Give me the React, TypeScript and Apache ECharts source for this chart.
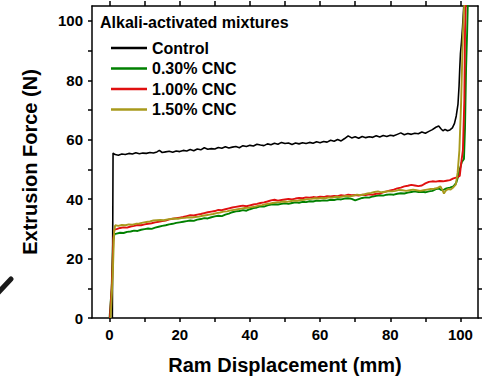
import React, { useEffect, useRef } from "react";
import * as echarts from "echarts";

const seriesNames = ["Control", "0.30% CNC", "1.00% CNC", "1.50% CNC"];
const seriesColors = ["#000000", "#008000", "#e01010", "#a89a1c"];

const xTicks = [0, 10, 20, 30, 40, 50, 60, 70, 80, 90, 100];
const xLabels = [0, 20, 40, 60, 80, 100];
const yTicks = [0, 10, 20, 30, 40, 50, 60, 70, 80, 90, 100];
const yLabels = [0, 20, 40, 60, 80, 100];

const controlData = [
  [0.8, 0], [1.0, 55.5], [1.6, 55.0], [2.5, 54.8], [3.5, 55.2], [4.5, 55.0], [5.5, 55.4], [6.5, 55.2],
  [7.5, 55.6], [8.5, 55.3], [9.5, 55.5], [10.5, 55.4], [11.5, 55.7], [12.5, 55.5], [13.5, 55.9], [14.2, 56.4],
  [15, 55.7], [16, 55.9], [17, 56.1], [18, 55.8], [19, 56.2], [20, 56.0], [21, 56.4], [22, 56.2], [23, 56.7],
  [24, 56.3], [25, 56.9], [26, 56.6], [27, 57.3], [28, 56.8], [29, 57.0], [30, 56.9], [31, 57.4], [32, 57.1],
  [33, 57.6], [34, 57.2], [35, 57.5], [36, 57.7], [37, 57.3], [38, 58.0], [39, 57.7], [40, 58.1], [41, 57.9],
  [42, 58.5], [43, 58.2], [44, 58.0], [45, 58.6], [46, 58.3], [47, 58.8], [48, 58.5], [49, 59.1], [50, 58.7],
  [51, 58.9], [52, 58.4], [53, 58.9], [54, 58.6], [55, 59.0], [56, 58.7], [57, 59.1], [58, 58.8], [59, 59.3],
  [60, 59.0], [61, 59.4], [62, 59.2], [63, 59.8], [64, 59.5], [65, 60.1], [66, 59.6], [67, 60.4], [68, 61.3],
  [69, 60.6], [70, 61.0], [71, 60.5], [72, 61.1], [73, 60.7], [74, 61.0], [75, 60.8], [76, 61.3], [77, 60.9],
  [78, 61.4], [79, 61.1], [80, 61.5], [81, 61.3], [82, 61.8], [83, 62.3], [84, 61.7], [85, 62.1], [86, 61.8],
  [87, 62.2], [88, 62.0], [89, 62.6], [90, 62.2], [91, 62.8], [92, 63.4], [93, 64.2], [93.8, 64.6], [94.5, 63.6],
  [95, 63.0], [95.6, 63.5], [96.3, 63.0], [97, 63.3], [97.7, 64.0], [98.3, 65.5], [98.8, 68], [99.3, 72],
  [99.6, 78], [99.8, 84], [100.0, 89], [100.3, 93], [100.6, 98], [101.0, 106],
];

const cnc030Data = [
  [0, 0], [0.6, 10], [1.0, 26], [1.4, 28.2], [2, 28.4], [3, 28.7], [4, 28.6], [5, 29.0], [6, 29.1], [7, 29.4],
  [8, 29.3], [9, 29.7], [10, 29.9], [11, 30.1], [12, 30.0], [13, 30.4], [14, 30.7], [15, 31.0], [16, 31.2],
  [17, 31.5], [18, 31.7], [19, 32.0], [20, 32.2], [21, 32.4], [22, 32.6], [23, 32.8], [24, 32.7], [25, 33.1],
  [26, 33.3], [27, 33.6], [28, 33.5], [29, 33.9], [30, 34.2], [31, 34.4], [32, 34.3], [33, 34.8], [34, 35.1],
  [35, 35.6], [36, 35.9], [37, 36.0], [38, 36.3], [39, 36.1], [40, 36.6], [41, 37.0], [42, 37.2], [43, 37.6],
  [44, 37.5], [45, 37.9], [46, 38.2], [47, 38.3], [48, 38.2], [49, 38.4], [50, 38.6], [51, 38.4], [52, 38.7],
  [53, 38.9], [54, 38.8], [55, 39.1], [56, 39.0], [57, 39.3], [58, 39.2], [59, 39.5], [60, 39.4], [61, 39.6],
  [62, 39.5], [63, 39.8], [64, 39.7], [65, 40.0], [66, 39.9], [67, 40.2], [68, 40.3], [69, 40.1], [70, 39.6],
  [71, 40.0], [72, 40.4], [73, 40.6], [74, 40.5], [75, 40.9], [76, 41.1], [77, 41.3], [78, 41.2], [79, 41.5],
  [80, 41.6], [81, 41.5], [82, 41.8], [83, 42.0], [84, 41.9], [85, 42.2], [86, 42.4], [87, 42.6], [88, 42.4],
  [89, 42.5], [90, 42.3], [91, 42.6], [92, 42.8], [93, 43.4], [93.8, 43.6], [94.5, 43.1], [95.3, 43.2],
  [96, 43.6], [97, 43.9], [98, 44.3], [98.8, 45.5], [99.3, 47.5], [99.8, 50], [100.4, 52.5], [101.0, 53.5],
  [101.3, 64], [101.6, 84], [101.9, 96], [102.1, 106],
];

const cnc100Data = [
  [0.1, 0], [0.7, 12], [1.1, 27], [1.4, 29.8], [2, 29.9], [3, 30.3], [4, 30.5], [5, 30.4], [6, 30.8], [7, 31.0],
  [8, 31.3], [9, 31.2], [10, 31.5], [11, 31.7], [12, 31.9], [13, 32.2], [14, 32.4], [15, 32.6], [16, 32.8],
  [17, 33.2], [18, 33.4], [19, 33.6], [20, 33.8], [21, 34.0], [22, 34.3], [23, 34.6], [24, 34.5], [25, 34.8],
  [26, 35.0], [27, 35.3], [28, 35.6], [29, 35.8], [30, 36.0], [31, 36.4], [32, 36.3], [33, 36.6], [34, 36.9],
  [35, 37.2], [36, 37.4], [37, 37.6], [38, 37.8], [39, 37.6], [40, 37.9], [41, 38.2], [42, 38.4], [43, 38.7],
  [44, 38.9], [45, 39.2], [46, 39.6], [47, 39.8], [48, 39.5], [49, 39.7], [50, 39.9], [51, 40.1], [52, 39.9],
  [53, 40.2], [54, 40.4], [55, 40.3], [56, 40.6], [57, 40.5], [58, 40.7], [59, 40.6], [60, 40.8], [61, 40.7],
  [62, 41.0], [63, 40.9], [64, 41.1], [65, 41.0], [66, 41.3], [67, 41.2], [68, 41.5], [69, 41.3], [70, 41.4],
  [71, 41.2], [72, 41.5], [73, 41.4], [74, 41.6], [75, 41.5], [76, 41.8], [77, 41.9], [78, 42.3], [79, 42.6],
  [80, 42.9], [81, 43.2], [82, 43.6], [83, 43.9], [84, 44.3], [85, 44.5], [86, 44.8], [87, 44.6], [88, 44.4],
  [89, 44.6], [90, 45.3], [91, 45.8], [92, 46.0], [93, 45.9], [94, 46.1], [95, 46.0], [96, 46.2], [97, 46.4],
  [98, 47.0], [99, 47.3], [99.8, 47.8], [100.2, 52], [100.7, 56.5], [101.1, 73], [101.3, 96], [101.5, 106],
];

const cnc150Data = [
  [0.3, 0], [0.9, 14], [1.3, 29], [1.6, 31.2], [2.5, 31.0], [3.5, 31.3], [4.5, 31.2], [5.5, 31.5], [6.5, 31.4],
  [7.5, 31.7], [8.5, 31.8], [9.5, 32.1], [10.5, 32.3], [11.5, 32.5], [12.5, 32.8], [13.5, 32.9], [14.5, 33.0],
  [15.5, 32.9], [16.5, 33.2], [17.5, 33.3], [18.5, 33.5], [19.5, 33.4], [20.5, 33.6], [21.5, 33.7], [22.5, 33.9],
  [23.5, 33.8], [24.5, 34.0], [25.5, 34.1], [26.5, 34.4], [27.5, 34.6], [28.5, 34.8], [29.5, 35.0], [30.5, 35.3],
  [31.5, 35.5], [32.5, 35.8], [33.5, 35.9], [34.5, 36.2], [35.5, 36.4], [36.5, 36.6], [37.5, 36.8], [38.5, 37.0],
  [39.5, 37.1], [40.5, 37.3], [41.5, 37.5], [42.5, 37.8], [43.5, 38.0], [44.5, 38.3], [45.5, 38.5], [46.5, 38.7],
  [47.5, 38.9], [48.5, 39.0], [49.5, 39.2], [50.5, 39.1], [51.5, 39.3], [52.5, 39.5], [53.5, 39.4], [54.5, 39.7],
  [55.5, 39.8], [56.5, 40.0], [57.5, 40.1], [58.5, 40.3], [59.5, 40.2], [60.5, 40.4], [61.5, 40.3], [62.5, 40.6],
  [63.5, 40.5], [64.5, 40.8], [65.5, 40.7], [66.5, 40.9], [67.5, 41.1], [68.5, 40.9], [69.5, 41.2], [70.5, 41.5],
  [71.5, 41.3], [72.5, 41.6], [73.5, 41.9], [74.5, 42.1], [75.5, 42.4], [76.5, 42.6], [77.5, 42.3], [78.5, 42.5],
  [79.5, 42.7], [80.5, 42.6], [81.5, 42.8], [82.5, 43.1], [83.5, 43.0], [84.5, 42.8], [85.5, 43.0], [86.5, 43.2],
  [87.5, 43.0], [88.5, 42.8], [89.5, 43.0], [90.5, 43.2], [91.5, 43.4], [92.5, 43.5], [93.5, 43.8], [94.3, 44.3],
  [94.8, 43.2], [95.3, 41.9], [95.8, 42.8], [96.5, 43.4], [97.2, 43.2], [98, 44.0], [98.7, 45], [99.2, 49],
  [99.7, 56.5], [100.2, 73], [100.7, 96], [101.1, 106],
];

const allData = [controlData, cnc030Data, cnc100Data, cnc150Data];

const FONT = "Arial, 'Liberation Sans', Helvetica, sans-serif";

export default function App() {
  const ref = useRef<HTMLDivElement>(null);
  useEffect(() => {
    if (!ref.current) return;
    const chart = echarts.init(ref.current, null, { renderer: "svg" });
    const axisLine = { show: true, onZero: false, lineStyle: { color: "#000", width: 1.5 } };
    const tickStyle = { color: "#000", width: 1.5 };
    const labelStyle = { color: "#000", fontFamily: FONT, fontWeight: "bold" as const, fontSize: 15 };
    chart.setOption({
      animation: false,
      backgroundColor: "#fff",
      grid: { left: 92, top: 6, width: 386, height: 312, containLabel: false },
      legend: {
        orient: "vertical",
        left: 106,
        top: 33,
        icon: "rect",
        itemWidth: 36,
        itemHeight: 2.5,
        itemGap: 0.5,
        data: seriesNames,
        textStyle: { color: "#000", fontFamily: FONT, fontWeight: "bold", fontSize: 16, lineHeight: 20 },
      },
      xAxis: [
        {
          type: "value", position: "bottom", min: -5, max: 105,
          axisLine,
          axisTick: { show: true, inside: false, length: 4, lineStyle: tickStyle, customValues: xTicks },
          axisLabel: { ...labelStyle, margin: 9, customValues: xLabels },
          splitLine: { show: false },
        },
        {
          type: "value", position: "top", min: -5, max: 105,
          axisLine,
          axisTick: { show: true, inside: false, length: 5, lineStyle: tickStyle, customValues: xTicks },
          axisLabel: { show: false },
          splitLine: { show: false },
        },
      ],
      yAxis: [
        {
          type: "value", position: "left", min: 0, max: 105,
          axisLine,
          axisTick: { show: true, inside: false, length: 4, lineStyle: tickStyle, customValues: yTicks },
          axisLabel: { ...labelStyle, margin: 9, customValues: yLabels },
          splitLine: { show: false },
        },
        {
          type: "value", position: "right", min: 0, max: 105,
          axisLine,
          axisTick: { show: true, inside: false, length: 4, lineStyle: tickStyle, customValues: yTicks },
          axisLabel: { show: false },
          splitLine: { show: false },
        },
      ],
      series: seriesNames.map((name, i) => ({
        name,
        type: "line",
        xAxisIndex: 0,
        yAxisIndex: 0,
        data: allData[i],
        showSymbol: false,
        symbol: "none",
        clip: true,
        color: seriesColors[i],
        lineStyle: { color: seriesColors[i], width: i === 0 ? 1.6 : 1.9 },
        z: 2 + i,
      })),
      graphic: [
        {
          type: "text", x: 100, y: 22,
          style: { text: "Alkali-activated mixtures", font: `bold 16px ${FONT}`, fill: "#000", textAlign: "left", textVerticalAlign: "middle" },
        },
        {
          type: "text", x: 285, y: 365,
          style: { text: "Ram Displacement (mm)", font: `bold 20px ${FONT}`, fill: "#000", textAlign: "center", textVerticalAlign: "middle" },
        },
        {
          type: "text", x: 30, y: 162, rotation: Math.PI / 2,
          style: { text: "Extrusion Force (N)", font: `bold 20px ${FONT}`, fill: "#000", textAlign: "center", textVerticalAlign: "middle" },
        },
        {
          type: "line",
          shape: { x1: -3, y1: 294, x2: 11, y2: 279 },
          style: { stroke: "#1a1a1a", lineWidth: 5, lineCap: "round" },
        },
      ],
    });
    return () => chart.dispose();
  }, []);
  return (
    <div
      ref={ref}
      style={{ position: "absolute", left: 0, top: 0, width: 484, height: 379 }}
    />
  );
}
